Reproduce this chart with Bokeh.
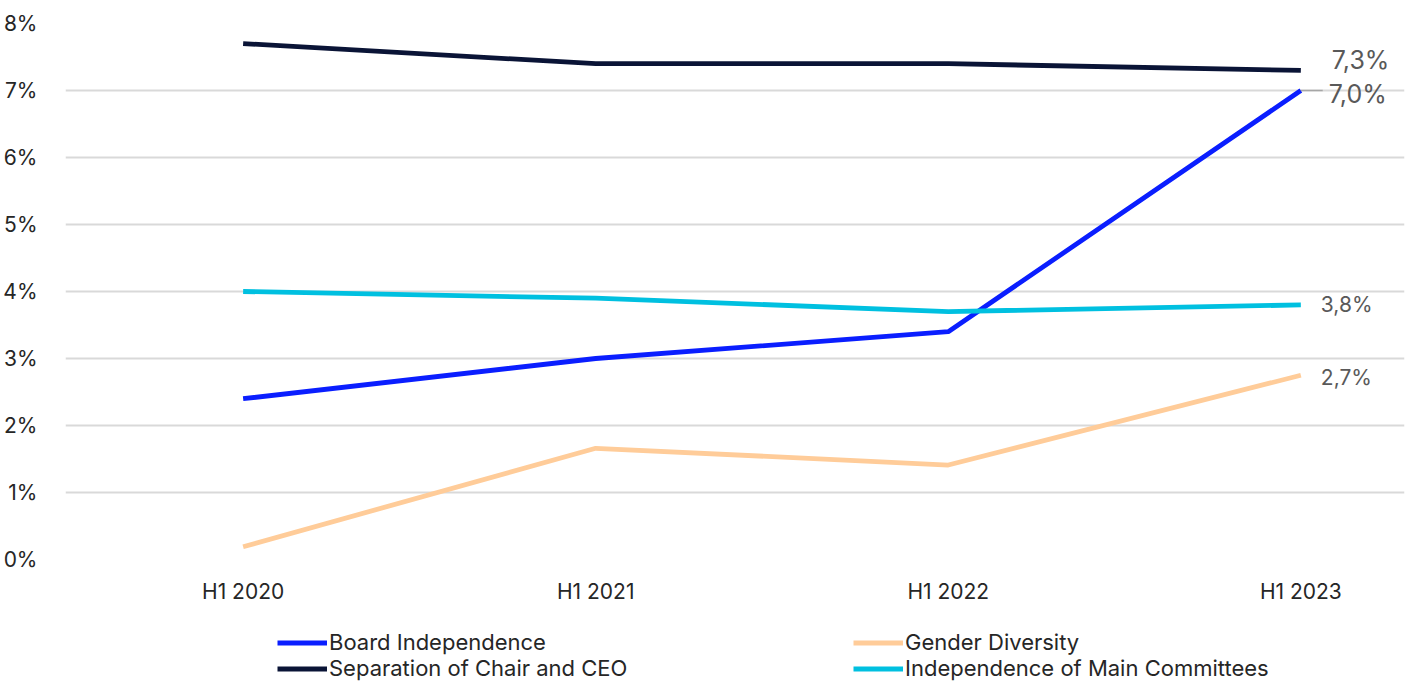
from bokeh.plotting import figure
from bokeh.models import Range1d, FixedTicker, Legend, LegendItem, ColumnDataSource
from bokeh.layouts import column
from bokeh.core.properties import value
from bokeh.embed import file_html
from bokeh.resources import INLINE

categories = ["H1 2020", "H1 2021", "H1 2022", "H1 2023"]
board_independence = [2.4, 3.0, 3.4, 7.0]
gender_diversity = [0.19, 1.66, 1.41, 2.75]
separation_chair_ceo = [7.7, 7.4, 7.4, 7.3]
committees_independence = [4.0, 3.9, 3.7, 3.8]
series_names = ["Board Independence", "Gender Diversity",
                "Separation of Chair and CEO", "Independence of Main Committees"]
end_labels = ["7,0%", "2,7%", "7,3%", "3,8%"]
y_ticks = [0, 1, 2, 3, 4, 5, 6, 7, 8]

FONT = "Inter"
colors = ["#0A1EFF", "#FFCC99", "#0A1436", "#00C0E0"]
series = [board_independence, gender_diversity, separation_chair_ceo, committees_independence]

p = figure(width=1406, height=606, output_backend="svg", toolbar_location=None,
           x_range=Range1d(-0.5038, 3.294), y_range=Range1d(0, 8),
           min_border_left=62, min_border_right=2, min_border_top=23, min_border_bottom=46)
p.outline_line_color = None
p.background_fill_color = "white"
p.border_fill_color = "white"

xs = list(range(len(categories)))
for vals, c in zip(series, colors):
    p.line(xs, vals, line_color=c, line_width=4.8)

# leader line for the 7,0% label
p.segment(x0=[xs[-1]], y0=[board_independence[-1]], x1=[xs[-1] + 0.062], y1=[board_independence[-1]],
          line_color="#A6A6A6", line_width=1.5)

# end labels
label_src = ColumnDataSource(dict(
    x=[xs[-1]] * 4,
    y=[board_independence[-1], gender_diversity[-1], separation_chair_ceo[-1], committees_independence[-1]],
    text=end_labels,
    xo=[28, 20, 31, 20],
    yo=[3, 2, -10, 0],
    size=["25px", "21px", "25px", "21px"],
))
p.text(x="x", y="y", text="text", x_offset="xo", y_offset="yo", text_font_size="size",
       text_font=value(FONT), text_color="#595959", text_baseline="middle", text_align="left",
       source=label_src)

# axes
p.xaxis.ticker = FixedTicker(ticks=xs)
p.xaxis.major_label_overrides = {i: c for i, c in enumerate(categories)}
p.yaxis.ticker = FixedTicker(ticks=y_ticks)
p.yaxis.major_label_overrides = {t: f"{t}%" for t in y_ticks}
for ax in (p.xaxis[0], p.yaxis[0]):
    ax.axis_line_color = None
    ax.major_tick_line_color = None
    ax.minor_tick_line_color = None
    ax.major_label_text_font = FONT
    ax.major_label_text_font_size = "21px"
    ax.major_label_text_color = "#262626"
p.xaxis.major_label_standoff = 13
p.yaxis.major_label_standoff = 22

p.xgrid.grid_line_color = None
p.ygrid.grid_line_color = "#D9D9D9"
p.ygrid.grid_line_width = 2
p.ygrid.ticker = FixedTicker(ticks=y_ticks)

# legend panel below the chart
lf = figure(width=1406, height=78, output_backend="svg", toolbar_location=None,
            x_axis_location=None, y_axis_location=None,
            x_range=Range1d(0, 1), y_range=Range1d(0, 1),
            min_border_left=0, min_border_right=0, min_border_top=0, min_border_bottom=0)
lf.outline_line_color = None
lf.xgrid.grid_line_color = None
lf.ygrid.grid_line_color = None
leg_renderers = [lf.line(x=[-5, -4], y=[-5, -5], line_color=c, line_width=4.8) for c in colors]

legend = Legend(items=[LegendItem(label=series_names[i], renderers=[leg_renderers[i]]) for i in range(4)],
                location=(212, 3), orientation="horizontal", ncols=2,
                border_line_color=None, background_fill_alpha=0, padding=0, margin=0, spacing=0,
                glyph_width=50, glyph_height=23, label_height=23, label_width=524, label_standoff=2,
                label_text_font=FONT, label_text_font_size="22px", label_text_color="#262626")
lf.add_layout(legend, "center")

layout = column(p, lf, spacing=0)
open("out.html", "w").write(file_html(layout, INLINE))
